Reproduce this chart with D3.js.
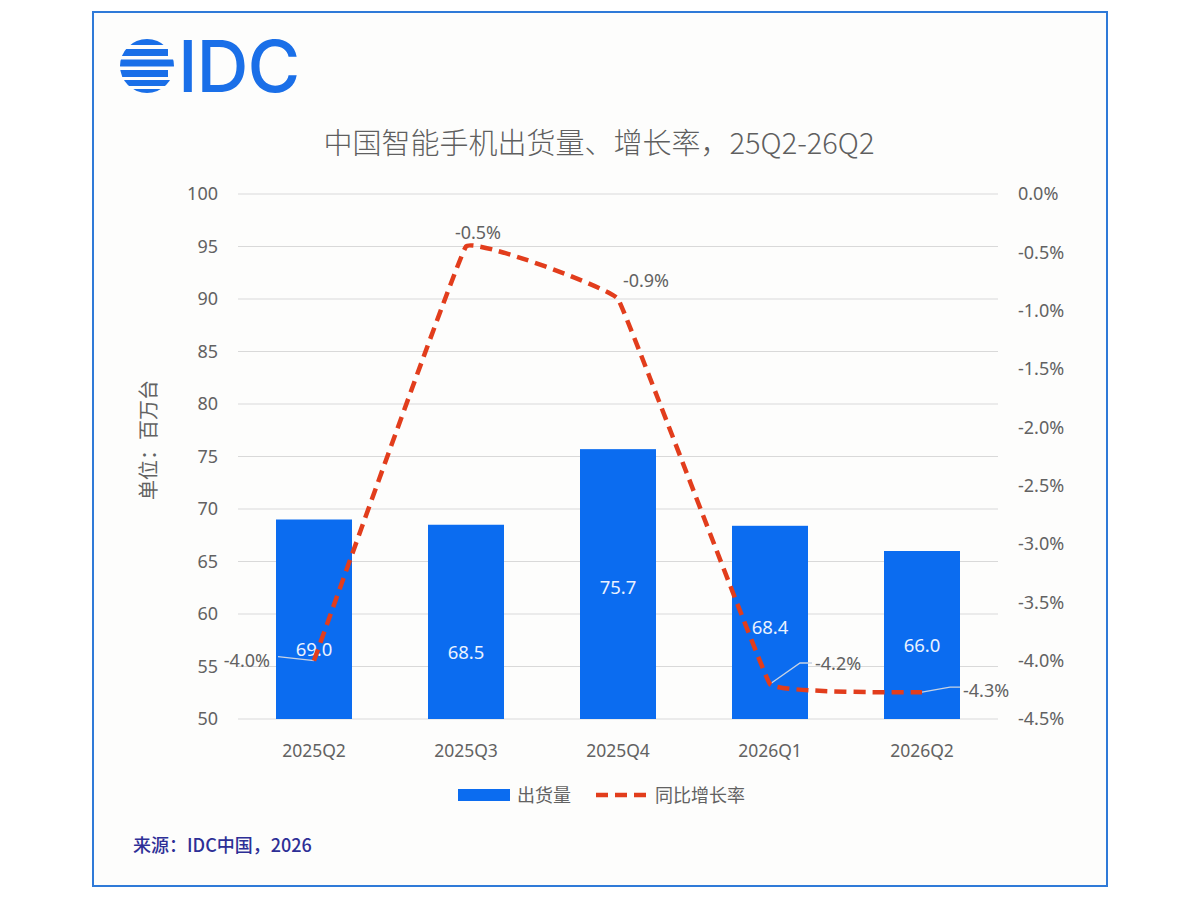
<!DOCTYPE html>
<html>
<head>
<meta charset="utf-8">
<script src="https://cdn.jsdelivr.net/npm/d3@7"></script>
<style>
  body { margin: 0; background: #ffffff; }
  svg { display: block; }
  text { font-family: "Noto Sans CJK SC", "Noto Sans", sans-serif; }
</style>
</head>
<body>
<div id="chart"></div>
<script>
var W = 1200, H = 900;

// data
var quarters = ["2025Q2", "2025Q3", "2025Q4", "2026Q1", "2026Q2"];
var shipments = [69.0, 68.5, 75.7, 68.4, 66.0];
var growth = [-4.0, -0.45, -0.9, -4.2, -4.27];
var growthLabels = ["-4.0%", "-0.5%", "-0.9%", "-4.2%", "-4.3%"];
var leftTicks = [50, 55, 60, 65, 70, 75, 80, 85, 90, 95, 100];
var rightTicks = [0, -0.5, -1.0, -1.5, -2.0, -2.5, -3.0, -3.5, -4.0, -4.5];

var gray = "#626262",
    blue = "#0b6cf0",
    red = "#e23d1c";

var svg = d3.select("#chart").append("svg")
  .attr("width", W)
  .attr("height", H);

// frame
svg.append("rect")
  .attr("x", 93).attr("y", 12)
  .attr("width", 1014).attr("height", 874)
  .attr("fill", "#fdfdfc")
  .attr("stroke", "#2f7ad8")
  .attr("stroke-width", 2);

// logo
var logo = svg.append("g");
var clip = svg.append("clipPath").attr("id", "globe");
clip.append("circle").attr("cx", 147).attr("cy", 66).attr("r", 27);
var stripes = [[39, 6, 4], [49, 7, 8], [59.5, 7, 0], [70, 7, 8], [80, 6, 3], [89, 5, 0]];
logo.append("g").attr("clip-path", "url(#globe)")
  .selectAll("rect").data(stripes).enter().append("rect")
  .attr("x", 118)
  .attr("y", function(d){ return d[0]; })
  .attr("width", function(d){ return 58 - d[2]; })
  .attr("height", function(d){ return d[1]; })
  .attr("fill", "#1a6fe8");
logo.append("text")
  .attr("x", 178).attr("y", 92)
  .attr("font-size", 72)
  .attr("font-weight", 500)
  .attr("letter-spacing", -1)
  .attr("fill", "#1a6fe8")
  .style("font-family", "Inter, Lato, sans-serif")
  .text("IDC");

// title
svg.append("text")
  .attr("x", 599).attr("y", 154)
  .attr("text-anchor", "middle")
  .attr("font-size", 29)
  .attr("font-weight", 300)
  .attr("fill", "#5f5f5f")
  .text("中国智能手机出货量、增长率，25Q2-26Q2");

// scales
var x = d3.scaleBand().domain(quarters).range([238, 998]).paddingInner(0.5).paddingOuter(0.25);
var yL = d3.scaleLinear().domain([50, 100]).range([719, 194]);
var yR = d3.scaleLinear().domain([-4.5, 0]).range([719, 194]);

// gridlines
svg.append("g").selectAll("line").data(leftTicks).enter().append("line")
  .attr("x1", 238).attr("x2", 998)
  .attr("y1", function(d){ return yL(d); })
  .attr("y2", function(d){ return yL(d); })
  .attr("stroke", "#d9d9d9")
  .attr("stroke-width", 1.2);

// left axis
var axL = svg.append("g")
  .attr("transform", "translate(218,0)")
  .call(d3.axisLeft(yL).tickValues(leftTicks).tickSize(0).tickPadding(0));
axL.select(".domain").remove();
axL.selectAll("text")
  .attr("font-size", 18)
  .attr("fill", gray)
  .style("font-family", "'Noto Sans', sans-serif");

// right axis
var axR = svg.append("g")
  .attr("transform", "translate(1018,0)")
  .call(d3.axisRight(yR).tickValues(rightTicks).tickSize(0).tickPadding(0)
    .tickFormat(function(d){ return d.toFixed(1) + "%"; }));
axR.select(".domain").remove();
axR.selectAll("text")
  .attr("font-size", 18)
  .attr("fill", gray)
  .style("font-family", "'Noto Sans', sans-serif");

// x axis
var axX = svg.append("g")
  .attr("transform", "translate(0,739)")
  .call(d3.axisBottom(x).tickSize(0).tickPadding(0));
axX.select(".domain").remove();
axX.selectAll("text")
  .attr("dy", "1em")
  .attr("font-size", 17.5)
  .attr("fill", gray)
  .style("font-family", "'Noto Sans', sans-serif");

// y title
svg.append("text")
  .attr("transform", "translate(156,440) rotate(-90)")
  .attr("text-anchor", "middle")
  .attr("font-size", 20)
  .attr("fill", gray)
  .text("单位：百万台");

// bars
svg.append("g").selectAll("rect").data(shipments).enter().append("rect")
  .attr("x", function(d, i){ return x(quarters[i]); })
  .attr("y", function(d){ return yL(d); })
  .attr("width", x.bandwidth())
  .attr("height", function(d){ return yL(50) - yL(d); })
  .attr("fill", blue);

// bar labels (vertical nudge off the line)
var barNudge = [30, 30, 3, 5, 10];
svg.append("g").selectAll("text").data(shipments).enter().append("text")
  .attr("x", function(d, i){ return x(quarters[i]) + x.bandwidth() / 2; })
  .attr("y", function(d, i){ return (yL(d) + yL(50)) / 2 + barNudge[i] + 7; })
  .attr("text-anchor", "middle")
  .attr("font-size", 18.5)
  .attr("fill", "#eaf2ff")
  .style("font-family", "'Noto Sans', sans-serif")
  .text(function(d){ return d.toFixed(1); });

// growth line
var pts = growth.map(function(d, i){ return [x(quarters[i]) + x.bandwidth() / 2, yR(d)]; });
var line = d3.line().curve(d3.curveCardinal.tension(0.85));

// leader lines for labels
var leaders = [
  [[-36, -4], [0, 0]],
  null,
  null,
  [[0, 0], [30, -21], [42, -21]],
  [[0, 0], [28, -5], [38, -5]]
];
leaders.forEach(function(l, i){
  if (!l) return;
  svg.append("path")
    .attr("d", d3.line()(l.map(function(p){ return [pts[i][0] + p[0], pts[i][1] + p[1]]; })))
    .attr("fill", "none")
    .attr("stroke", "#c9d3e3")
    .attr("stroke-width", 1.3);
});

svg.append("path")
  .attr("d", line(pts))
  .attr("fill", "none")
  .attr("stroke", red)
  .attr("stroke-width", 4.5)
  .attr("stroke-dasharray", "12,7");

// growth labels: offsets from their point
var labelPos = [[-44, 6, "end"], [12, -8, "middle"], [28, -12, "middle"], [45, -14, "start"], [41, 5, "start"]];
svg.append("g").selectAll("text").data(growthLabels).enter().append("text")
  .attr("x", function(d, i){ return pts[i][0] + labelPos[i][0]; })
  .attr("y", function(d, i){ return pts[i][1] + labelPos[i][1]; })
  .attr("text-anchor", function(d, i){ return labelPos[i][2]; })
  .attr("font-size", 18)
  .attr("fill", gray)
  .style("font-family", "'Noto Sans', sans-serif")
  .text(function(d){ return d; });

// legend
var lg = svg.append("g");
lg.append("rect")
  .attr("x", 458).attr("y", 789)
  .attr("width", 52).attr("height", 12)
  .attr("fill", blue);
lg.append("text")
  .attr("x", 517).attr("y", 802)
  .attr("font-size", 18)
  .attr("fill", gray)
  .text("出货量");
lg.append("line")
  .attr("x1", 596).attr("x2", 646)
  .attr("y1", 795).attr("y2", 795)
  .attr("stroke", red)
  .attr("stroke-width", 4.5)
  .attr("stroke-dasharray", "12,7");
lg.append("text")
  .attr("x", 655).attr("y", 802)
  .attr("font-size", 18)
  .attr("fill", gray)
  .text("同比增长率");

// source
svg.append("text")
  .attr("x", 133).attr("y", 852)
  .attr("font-size", 18)
  .attr("font-weight", 500)
  .attr("fill", "#2d2f96")
  .text("来源：IDC中国，2026");
</script>
</body>
</html>
